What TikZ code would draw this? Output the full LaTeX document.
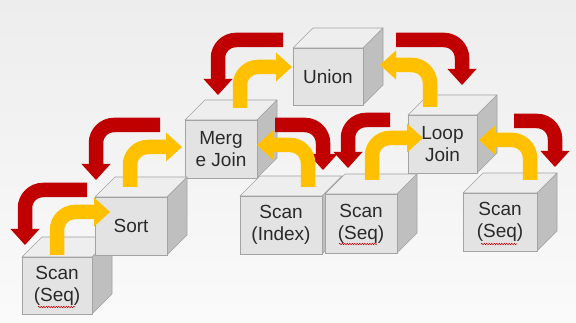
\documentclass[tikz,border=0pt]{standalone}
\usepackage{fontspec}
\setmainfont{Liberation Sans}
\usetikzlibrary{calc,decorations.pathmorphing}
\definecolor{arred}{HTML}{C00000}
\definecolor{aryel}{HTML}{FFC000}
\definecolor{cfront}{HTML}{E3E3E3}
\definecolor{ctop}{HTML}{EEEEEE}
\definecolor{cside}{HTML}{BFBFBF}
\definecolor{cedge}{HTML}{A3A3A3}
\definecolor{ctext}{HTML}{2A2A2A}
\definecolor{bgtop}{HTML}{EDEDED}
\definecolor{bgbot}{HTML}{FAFAFA}
\tikzset{
  facetop/.style={fill=ctop, draw=cedge, line width=0.6pt, line join=round},
  faceside/.style={fill=cside, draw=cedge, line width=0.6pt, line join=round},
  facefront/.style={fill=cfront, draw=cedge, line width=0.6pt, inner sep=0pt,
     align=center, text=ctext, font=\fontsize{19}{22}\selectfont},
  band/.style={line width=14.5pt, rounded corners=18pt},
  squiggle/.style={arred, line width=0.5pt, decorate,
     decoration={snake, amplitude=0.7pt, segment length=2.5pt}}
}
% #1 name, #2 x1, #3 y1, #4 x2, #5 y2, #6 text  (front face corners)
\newcommand\mycube[6]{%
  \filldraw[facetop] (#2,#3) -- (#2+20,#3-20) -- (#4+20,#3-20) -- (#4,#3) -- cycle;
  \filldraw[faceside] (#4,#3) -- (#4+20,#3-20) -- (#4+20,#5-20) -- (#4,#5) -- cycle;
  \node[facefront, minimum width=#4pt-#2pt, minimum height=#5pt-#3pt]
     (#1) at ({(#2+#4)/2},{(#3+#5)/2}) {#6};
}
% #1 colour, #2 tail, #3 corner, #4 tip (coordinate names)
\newcommand\bentarrow[4]{%
  \draw[#1, band] (#2) -- (#3) -- ($(#4)!15pt!(#3)$);
  \coordinate (hb) at ($(#4)!16pt!(#3)$);
  \fill[#1] (#4) -- ($(hb)!14.5pt!90:(#4)$) -- ($(hb)!14.5pt!-90:(#4)$) -- cycle;
}
\begin{document}
\begin{tikzpicture}[x=1pt, y=-1pt]
\useasboundingbox (0,0) rectangle (576,323);
\shade[top color=bgtop, bottom color=bgbot] (0,0) rectangle (576,323);

% cubes
\mycube{union}{293}{48}{363}{105}{Union}
\mycube{merge}{185}{120}{257}{178}{Merg\\e Join}
\mycube{loop}{408}{115}{477}{173}{Loop\\Join}
\mycube{scanbl}{22}{257}{92}{314}{Scan\\(Seq)}
\mycube{sort}{95}{197}{167}{255}{Sort}
\mycube{scanidx}{240}{196}{322}{254}{Scan\\(Index)}
\mycube{scanmid}{325}{194}{397}{253}{Scan\\(Seq)}
\mycube{scanr}{463}{193}{537}{251}{Scan\\(Seq)}

% spell-check squiggles under "Seq"
\coordinate (q1a) at (38,307); \coordinate (q1b) at (75,307);
\coordinate (q2a) at (339,244); \coordinate (q2b) at (377,244);
\coordinate (q3a) at (481,244); \coordinate (q3b) at (517,244);
\draw[squiggle] (q1a) -- (q1b);
\draw[squiggle] (q2a) -- (q2b);
\draw[squiggle] (q3a) -- (q3b);

% arrow coordinates
\coordinate (r1s) at (283,40);  \coordinate (r1c) at (218,40);  \coordinate (r1e) at (218,95);
\coordinate (y1s) at (240,108); \coordinate (y1c) at (240,67);  \coordinate (y1e) at (292,67);
\coordinate (r2s) at (396,40);  \coordinate (r2c) at (462,40);  \coordinate (r2e) at (462,85);
\coordinate (y2s) at (430,107); \coordinate (y2c) at (430,65);  \coordinate (y2e) at (380,65);
\coordinate (r3s) at (275,125); \coordinate (r3c) at (323,125); \coordinate (r3e) at (323,170);
\coordinate (r4s) at (390,120); \coordinate (r4c) at (348,120); \coordinate (r4e) at (348,168);
\coordinate (y3s) at (308,187); \coordinate (y3c) at (308,145); \coordinate (y3e) at (257,145);
\coordinate (y4s) at (372,180); \coordinate (y4c) at (372,138); \coordinate (y4e) at (423,138);
\coordinate (r5s) at (514,121); \coordinate (r5c) at (555,121); \coordinate (r5e) at (555,167);
\coordinate (y5s) at (530,180); \coordinate (y5c) at (530,140); \coordinate (y5e) at (479,140);
\coordinate (r6s) at (160,125); \coordinate (r6c) at (96,125);  \coordinate (r6e) at (96,180);
\coordinate (y6s) at (130,187); \coordinate (y6c) at (130,147); \coordinate (y6e) at (182,147);
\coordinate (r7s) at (87,190);  \coordinate (r7c) at (25,190);  \coordinate (r7e) at (25,245);
\coordinate (y7s) at (57,255);  \coordinate (y7c) at (57,212);  \coordinate (y7e) at (110,212);

\bentarrow{arred}{r1s}{r1c}{r1e}
\bentarrow{arred}{r2s}{r2c}{r2e}
\bentarrow{arred}{r3s}{r3c}{r3e}
\bentarrow{arred}{r4s}{r4c}{r4e}
\bentarrow{arred}{r5s}{r5c}{r5e}
\bentarrow{arred}{r6s}{r6c}{r6e}
\bentarrow{arred}{r7s}{r7c}{r7e}
\bentarrow{aryel}{y1s}{y1c}{y1e}
\bentarrow{aryel}{y2s}{y2c}{y2e}
\bentarrow{aryel}{y3s}{y3c}{y3e}
\bentarrow{aryel}{y4s}{y4c}{y4e}
\bentarrow{aryel}{y5s}{y5c}{y5e}
\bentarrow{aryel}{y6s}{y6c}{y6e}
\bentarrow{aryel}{y7s}{y7c}{y7e}
\end{tikzpicture}
\end{document}
